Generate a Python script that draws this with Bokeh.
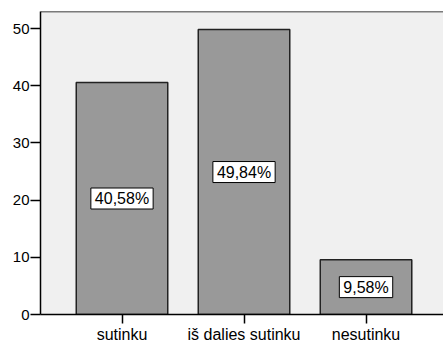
from bokeh.plotting import figure
from bokeh.models import Range1d, FixedTicker, ColumnDataSource, Span
from bokeh.core.properties import value
from bokeh.embed import file_html
from bokeh.resources import INLINE

categories = ["sutinku", "iš dalies sutinku", "nesutinku"]
values = [40.58, 49.84, 9.58]
labels = ["40,58%", "49,84%", "9,58%"]
y_ticks = [0, 10, 20, 30, 40, 50]

xs = list(range(len(categories)))
src = ColumnDataSource(dict(x=xs, top=values, mid=[v / 2 for v in values], lab=labels))

p = figure(width=443, height=345, output_backend="svg", toolbar_location=None,
           x_range=Range1d(-0.668, 2.635), y_range=Range1d(0, 53),
           min_border_left=40, min_border_right=0, min_border_top=11, min_border_bottom=30)

p.background_fill_color = "#f0f0f0"
p.border_fill_color = "white"
p.outline_line_color = None
p.xgrid.visible = False
p.ygrid.visible = False

p.vbar(x="x", top="top", width=0.75, source=src, fill_color="#999999",
       line_color="#222222", line_width=1.5)

p.text(x="x", y="mid", text="lab", source=src, text_align="center",
       text_baseline="middle", text_font=value("Liberation Sans"), text_font_size="16px",
       text_color="black", background_fill_color="white",
       border_line_color="black", border_line_width=1, padding=dict(left=4, right=4, top=2, bottom=2))

p.add_layout(Span(location=53, dimension="width", line_color="black", line_width=1.5))

p.xaxis.ticker = FixedTicker(ticks=xs)
p.xaxis.major_label_overrides = {i: c for i, c in zip(xs, categories)}
p.yaxis.ticker = FixedTicker(ticks=y_ticks)

for ax in (p.xaxis, p.yaxis):
    ax.axis_line_color = "black"
    ax.axis_line_width = 1.5
    ax.major_tick_line_color = "black"
    ax.major_tick_line_width = 1.5
    ax.major_tick_in = 0
    ax.minor_tick_line_color = None
    ax.major_label_text_font = "Liberation Sans"
    ax.major_label_text_color = "black"

p.xaxis.major_tick_out = 9
p.xaxis.major_label_standoff = 2
p.xaxis.major_label_text_font_size = "16px"
p.yaxis.major_tick_out = 10
p.yaxis.major_label_standoff = 1
p.yaxis.major_label_text_font_size = "15px"

open("out.html", "w").write(file_html(p, INLINE))
